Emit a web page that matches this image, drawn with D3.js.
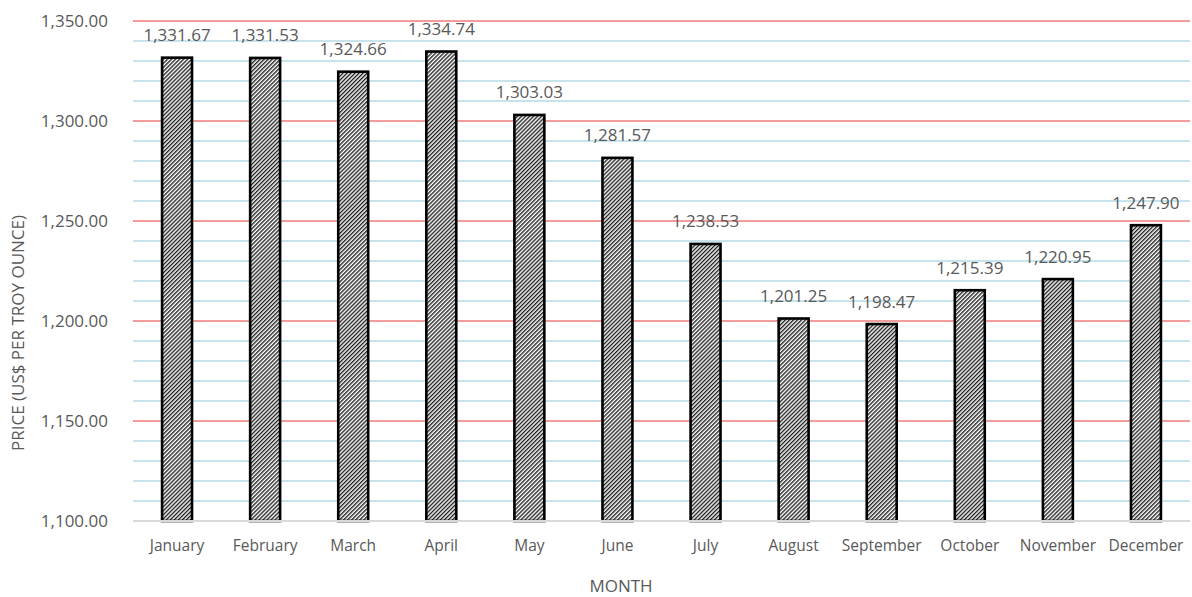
<!DOCTYPE html>
<html><head><meta charset="utf-8">
<script src="https://cdn.jsdelivr.net/npm/d3@7"></script>
<style>body{margin:0;background:#fff}svg{display:block}text{font-family:"Open Sans","Noto Sans",sans-serif;fill:#595959}</style>
</head><body><svg id="c" width="1192" height="597"></svg>
<script>
const months=["January","February","March","April","May","June","July","August","September","October","November","December"];
const prices=[1331.67,1331.53,1324.66,1334.74,1303.03,1281.57,1238.53,1201.25,1198.47,1215.39,1220.95,1247.90];
const majorTicks=[1100,1150,1200,1250,1300,1350];
const minorTicks=d3.range(1110,1350,10).filter(v=>v%50!==0);

(function(){
const svg=d3.select("#c");
const pL=133,pR=1190,pT=21,pB=521;
const x=d3.scaleBand().domain(months).range([pL,pR]).paddingInner(0.66).paddingOuter(0.33);
const y=d3.scaleLinear().domain([1100,1350]).range([pB,pT]);
const fmt=d3.format(",.2f");

const defs=svg.append("defs");
const s=2.85;
const pat=defs.append("pattern").attr("id","hatch").attr("patternUnits","userSpaceOnUse").attr("width",s).attr("height",s).attr("patternTransform","rotate(45)");
pat.append("rect").attr("width",s).attr("height",s).attr("fill","#fff");
pat.append("line").attr("x1",0.7).attr("y1",0).attr("x2",0.7).attr("y2",s).attr("stroke","#111").attr("stroke-width",1.3);

svg.append("g").selectAll("line").data(minorTicks).join("line")
 .attr("x1",pL).attr("x2",pR).attr("y1",d=>y(d)).attr("y2",d=>y(d))
 .attr("stroke","#B4DAE6").attr("stroke-width",1.5);
svg.append("g").selectAll("line").data(majorTicks.filter(d=>d>1100)).join("line")
 .attr("x1",pL).attr("x2",pR).attr("y1",d=>y(d)).attr("y2",d=>y(d))
 .attr("stroke","#F07A7A").attr("stroke-width",1.5);

svg.append("g").selectAll("rect").data(months).join("rect")
 .attr("x",d=>x(d)).attr("width",x.bandwidth())
 .attr("y",(d,i)=>y(prices[i])).attr("height",(d,i)=>y(1100)-y(prices[i]))
 .attr("fill","url(#hatch)").attr("stroke","#000").attr("stroke-width",2.6);

svg.append("line").attr("x1",pL).attr("x2",pR).attr("y1",pB).attr("y2",pB).attr("stroke","#D9D9D9").attr("stroke-width",2);

svg.append("g").selectAll("text").data(months).join("text")
 .attr("x",d=>x(d)+x.bandwidth()/2).attr("y",(d,i)=>y(prices[i])-16.5)
 .attr("text-anchor","middle").attr("font-size",17).text((d,i)=>fmt(prices[i]));

const ya=svg.append("g").attr("transform",`translate(${pL},0)`)
 .call(d3.axisLeft(y).tickValues(majorTicks).tickFormat(fmt).tickSize(0).tickPadding(25));
ya.select(".domain").remove();
ya.selectAll("text").attr("font-size",17).style("fill","#595959").style("font-family","'Open Sans',sans-serif");

const xa=svg.append("g").attr("transform",`translate(0,${pB})`)
 .call(d3.axisBottom(x).tickSize(0));
xa.select(".domain").remove();
xa.selectAll("text").attr("y",30).attr("dy",0).attr("font-size",15.5).style("fill","#595959").style("font-family","'Open Sans',sans-serif");

svg.append("text").attr("x",621).attr("y",592).attr("text-anchor","middle").attr("font-size",17).text("MONTH");
svg.append("text").attr("transform",`translate(24,333) rotate(-90)`).attr("text-anchor","middle").attr("font-size",17).text("PRICE (US$ PER TROY OUNCE)");
})();
</script></body></html>
